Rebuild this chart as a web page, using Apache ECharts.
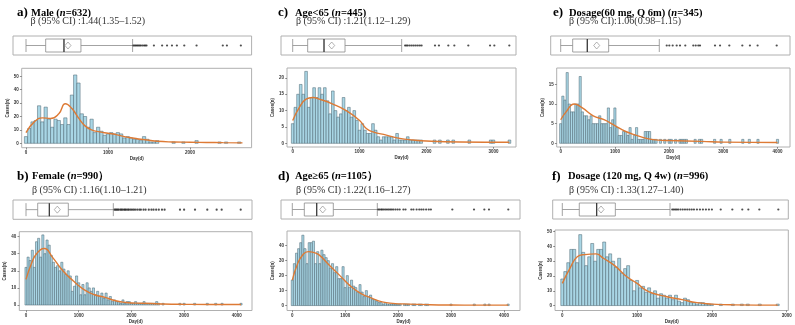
<!DOCTYPE html>
<html><head><meta charset="utf-8">
<script src="https://cdn.jsdelivr.net/npm/echarts@6/dist/echarts.min.js"></script>
<style>html,body{margin:0;padding:0;background:#fff}#c{width:795px;height:325px}</style>
</head><body><div id="c"></div>
<script>
// ---------------- DATA ----------------
const binWidth = 40; // days per histogram bin (bins centred on 0, 40, 80, ...)

// a) Male
const tagA = 'a)';
const titleA = 'Male (n=632)';
const subA = 'β (95% CI) :1.44(1.35–1.52)';
const countsA = [5,11,16,17,28,16,27,18,12,18, 17,14,19,14,36,51,45,22,20,12, 18,8,12,9,6,7,8,7,8,7, 4,5,4,3,3,2,5,3,1,1, 2,0,0,0,0,1,0,0,1,0, 0,0,2,0,0,0,0,0,0,1, 0,1,0,0,0,1];
const densA = [[0,8],[100,16],[200,19],[300,18.5],[400,22],[480,29.5],[560,26],[640,19],[720,13],[800,10],[900,8.5],[1000,7.5],[1100,6.5],[1200,5],[1300,4],[1400,3],[1500,2.3],[1600,1.5],[1800,1],[2000,0.8],[2200,0.6],[2400,0.5],[2640,0.3]];
const boxA = [0,240,463,670,1300];
const meanA = 512;
const outA = [1310,1325,1340,1355,1370,1385,1400,1420,1440,1455,1470,1560,1660,1720,1780,1840,1930,2080,2400,2450,2620];
const xTicksA = [0,1000,2000];
const yTicksA = [0,10,20,30,40,50];

// b) Female
const tagB = 'b)';
const titleB = 'Female (n=990）';
const subB = 'β (95% CI) :1.16(1.10–1.21)';
const countsB = [22,28,26,32,22,37,39,28,41,30, 38,35,29,25,22,23,20,25,21,18, 20,17,8,11,17,13,6,12,6,13, 10,8,10,6,8,5,7,4,7,3, 5,2,3,2,2,1,3,1,2,2, 1,1,2,1,1,1,2,1,1,1, 1,1,2,1,0,1,0,0,0,0, 0,0,0,1,0,1,0,0,0,0, 1,0,0,0,0,0,1,0,0,0, 1,0,0,1,0,0,0,0,0,0, 0,0,1];
const densB = [[0,15],[100,24],[200,30],[350,33],[500,28],[700,20],[900,14],[1100,9],[1300,6],[1500,4.5],[1700,2.5],[1900,1.5],[2200,1],[2600,0.6],[3000,0.4],[3500,0.3],[4080,0.3]];
const boxB = [0,222,443,803,1657];
const meanB = 594;
const outB = [1680,1700,1720,1740,1760,1790,1810,1830,1860,1880,1900,1930,1950,1980,2010,2040,2070,2110,2150,2180,2230,2270,2330,2380,2420,2470,2520,2580,2630,2922,3000,3207,3440,3618,3713,4074];
const xTicksB = [0,1000,2000,3000,4000];
const yTicksB = [0,10,20,30,40];

// c) Age<65
const tagC = 'c)';
const titleC = 'Age<65 (n=445)';
const subC = 'β (95% CI) :1.21(1.12–1.29)';
const countsC = [6,11,15,18,15,22,11,14,17,14, 17,15,17,13,9,16,10,8,9,14, 10,11,8,10,7,4,6,4,3,3, 6,4,2,1,2,2,2,2,1,3, 1,1,1,2,1,1,1,1,1,0, 0,0,0,1,0,1,0,0,1,0, 1,0,0,0,0,0,1,0,0,0, 0,0,0,0,1,1,0,0,0,0, 0,1];
const densC = [[0,7],[100,11],[200,13.5],[300,14],[400,13.5],[600,12],[800,10],[1000,7],[1100,4.5],[1200,3.5],[1400,2.5],[1600,1.5],[1800,1],[2000,0.7],[2500,0.4],[3240,0.3]];
const boxC = [0,224,468,782,1629];
const meanC = 583;
const outC = [1680,1700,1720,1750,1780,1810,1840,1870,1900,1927,2127,2186,2326,2416,2625,2950,3014,3238];
const xTicksC = [0,1000,2000,3000];
const yTicksC = [0,5,10,15,20];

// d) Age>=65
const tagD = 'd)';
const titleD = 'Age≥65 (n=1105）';
const subD = 'β (95% CI) :1.22(1.16–1.27)';
const countsD = [17,28,35,38,42,47,38,28,42,42, 43,28,36,28,37,34,32,30,25,28, 22,26,18,18,26,12,20,12,17,13, 12,9,14,9,6,10,6,7,4,4, 3,2,2,1,2,1,1,1,1,1, 1,1,0,1,1,1,0,1,1,0, 1,1,0,1,1,0,0,0,0,0, 0,0,0,0,0,1,0,0,0,0, 0,0,0,0,0,0,1,0,0,0, 0,1,0,1,0,0,0,0,0,0, 0,0,1];
const densD = [[0,17],[100,28],[200,34],[300,36],[400,35.5],[500,34],[700,27],[900,20],[1100,13],[1300,8],[1500,5],[1700,2.5],[1900,1.5],[2200,1],[2600,0.6],[3000,0.4],[3500,0.3],[4080,0.3]];
const boxD = [0,227,461,775,1607];
const meanD = 575;
const outD = [1625,1650,1680,1700,1730,1760,1790,1820,1850,1880,1910,1950,1990,2030,2100,2140,2250,2290,2350,2400,2440,2480,2530,2580,2620,3025,3435,3630,3718,4083];
const xTicksD = [0,1000,2000,3000,4000];
const yTicksD = [0,10,20,30,40];

// e) Dosage 60 mg
const tagE = 'e)';
const titleE = 'Dosage(60 mg, Q 6m) (n=345)';
const subE = 'β (95% CI):1.06(0.98–1.15)';
const countsE = [5,12,11,18,10,8,8,10,10,17, 8,7,7,6,7,5,5,5,7,5, 5,5,9,4,6,9,4,2,2,3, 3,2,4,1,2,4,1,1,1,3, 3,3,1,1,1,0,1,0,1,0, 1,1,0,1,0,1,1,1,1,0, 0,0,1,0,1,1,0,0,0,0, 0,1,0,0,1,0,0,0,1,0, 0,0,0,0,1,0,0,1,0,0, 0,1,0,0,0,0,0,0,0,0, 1];
const densE = [[0,6],[100,8],[250,10],[400,9],[600,7],[800,6],[1000,4.5],[1200,3],[1400,2],[1600,1.2],[1800,0.8],[2000,0.7],[2600,0.5],[3000,0.3],[4000,0.2]];
const boxE = [0,221,491,885,1819];
const meanE = 664;
const outE = [1956,2004,2066,2140,2201,2299,2446,2491,2539,2570,2847,2940,3111,3351,3491,3633,3985];
const xTicksE = [0,1000,2000,3000,4000];
const yTicksE = [0,5,10,15];

// f) Dosage 120 mg
const tagF = 'f)';
const titleF = 'Dosage (120 mg, Q 4w) (n=996)';
const subF = 'β (95% CI) :1.33(1.27–1.40)';
const countsF = [18,23,29,38,38,29,48,36,27,33, 42,30,38,38,43,33,35,30,26,32, 22,25,27,17,10,17,12,13,9,12, 8,10,5,8,7,5,7,4,7,3, 2,5,4,2,2,1,2,2,1,1, 1,0,0,1,0,0,0,1,0,0, 1,0,1,0,0,0,1,0,0,0, 0,0,1];
const densF = [[0,15],[100,25],[200,33],[300,34.5],[450,35],[550,32],[700,27],[850,20],[1000,15],[1100,11],[1200,8.5],[1400,6],[1600,4],[1800,2],[2000,1],[2300,0.5],[2880,0.3]];
const boxF = [0,227,459,709,1440];
const meanF = 518;
const outF = [1470,1490,1510,1530,1550,1580,1610,1640,1670,1700,1730,1760,1800,1840,1880,1920,1960,2000,2118,2273,2406,2487,2634,2888];
const xTicksF = [0,1000,2000,3000];
const yTicksF = [0,10,20,30,40,50];

// ---------------- LAYOUT (pixels) ----------------
const layoutA = {box:[13,36,251.6,55], hist:[21.7,68.3,251.6,147.7], x0:26, px:82, y0:143.3, pu:1.34, tagX:17, nameX:31, titleY:13, subX:30.5, subY:21.5};
const layoutB = {box:[13,200,252,219.3], hist:[19.3,231.7,252,312.3], x0:26, px:52.7, y0:306.7, pu:1.75, tagX:17, nameX:32, titleY:176.5, subX:32, subY:190.5};
const layoutC = {box:[281,36,516,55], hist:[287,68,516,147], x0:292.7, px:66.9, y0:143.3, pu:3.27, tagX:278, nameX:295, titleY:13, subX:296, subY:21.5};
const layoutD = {box:[281,200,520,219], hist:[287,231,520,311.7], x0:292.3, px:52.9, y0:306.7, pu:1.52, tagX:278, nameX:295, titleY:176.5, subX:296, subY:190.5};
const layoutE = {box:[550.7,36,790,55], hist:[556.7,68,790,147], x0:560.7, px:54.2, y0:143.3, pu:3.93, tagX:553, nameX:569, titleY:13, subX:569, subY:21.5};
const layoutF = {box:[552.7,200,788.3,219], hist:[555,230,788.3,311.7], x0:562.3, px:74.8, y0:306.7, pu:1.5, tagX:552, nameX:568, titleY:176.5, subX:569, subY:190.5};

const panels = [
  {tag:tagA, title:titleA, sub:subA, counts:countsA, dens:densA, box:boxA, mean:meanA, out:outA, xt:xTicksA, yt:yTicksA, L:layoutA},
  {tag:tagB, title:titleB, sub:subB, counts:countsB, dens:densB, box:boxB, mean:meanB, out:outB, xt:xTicksB, yt:yTicksB, L:layoutB},
  {tag:tagC, title:titleC, sub:subC, counts:countsC, dens:densC, box:boxC, mean:meanC, out:outC, xt:xTicksC, yt:yTicksC, L:layoutC},
  {tag:tagD, title:titleD, sub:subD, counts:countsD, dens:densD, box:boxD, mean:meanD, out:outD, xt:xTicksD, yt:yTicksD, L:layoutD},
  {tag:tagE, title:titleE, sub:subE, counts:countsE, dens:densE, box:boxE, mean:meanE, out:outE, xt:xTicksE, yt:yTicksE, L:layoutE},
  {tag:tagF, title:titleF, sub:subF, counts:countsF, dens:densF, box:boxF, mean:meanF, out:outF, xt:xTicksF, yt:yTicksF, L:layoutF}
];

// ---------------- BUILD ----------------
const SERIF = '"Liberation Serif","Times New Roman",serif';
const SANS = '"Liberation Sans",Arial,sans-serif';
const grids = [], xAxes = [], yAxes = [], series = [], graphics = [];
const tickLabel = {fontSize:4.5, color:'#333', fontFamily:SANS, fontWeight:'bold'};
const plain = v => String(v);

panels.forEach(p => {
  const L = p.L;
  const toX = px => (px - L.x0) / L.px * 1000;
  const toY = py => (L.y0 - py) / L.pu;

  const gb = grids.length;
  grids.push({left:L.box[0], top:L.box[1], width:L.box[2]-L.box[0], height:L.box[3]-L.box[1], show:true, borderColor:'#b0b0b0', borderWidth:1});
  xAxes.push({gridIndex:gb, type:'value', min:toX(L.box[0]), max:toX(L.box[2]), show:false, splitLine:{show:false}});
  yAxes.push({gridIndex:gb, type:'category', data:['d'], show:false});
  series.push({type:'boxplot', xAxisIndex:gb, yAxisIndex:gb, data:[p.box], boxWidth:[13,13], silent:true,
    itemStyle:{color:'#fff', borderColor:'#8c8c8c', borderWidth:0.8}});
  series.push({type:'scatter', xAxisIndex:gb, yAxisIndex:gb, data:[[p.box[2],0]], symbol:'rect', symbolSize:[1.3,13], silent:true,
    itemStyle:{color:'#222'}});
  series.push({type:'scatter', xAxisIndex:gb, yAxisIndex:gb, data:[[p.mean,0]], symbol:'diamond', symbolSize:[6,7], silent:true,
    itemStyle:{color:'#fff', borderColor:'#888', borderWidth:0.8}});
  series.push({type:'scatter', xAxisIndex:gb, yAxisIndex:gb, data:p.out.map(v=>[v,0]), symbol:'circle', symbolSize:2.2, silent:true,
    itemStyle:{color:'#222'}});

  const gh = grids.length;
  grids.push({left:L.hist[0], top:L.hist[1], width:L.hist[2]-L.hist[0], height:L.hist[3]-L.hist[1], show:true, borderColor:'#b0b0b0', borderWidth:1});
  xAxes.push({gridIndex:gh, type:'value', min:toX(L.hist[0]), max:toX(L.hist[2]),
    axisLine:{show:false, onZero:false}, splitLine:{show:false},
    axisTick:{show:true, length:1.8, customValues:p.xt, lineStyle:{color:'#444', width:0.6}},
    axisLabel:Object.assign({customValues:p.xt, margin:2.5, formatter:plain}, tickLabel),
    name:'Day(d)', nameLocation:'middle', nameGap:8.5, nameTextStyle:tickLabel});
  yAxes.push({gridIndex:gh, type:'value', min:toY(L.hist[3]), max:toY(L.hist[1]),
    axisLine:{show:false, onZero:false}, splitLine:{show:false},
    axisTick:{show:true, length:1.8, customValues:p.yt, lineStyle:{color:'#444', width:0.6}},
    axisLabel:Object.assign({customValues:p.yt, margin:3, formatter:plain}, tickLabel),
    name:'Cases(n)', nameLocation:'middle', nameGap:10, nameRotate:90, nameTextStyle:tickLabel});
  series.push({type:'custom', xAxisIndex:gh, yAxisIndex:gh, silent:true,
    data:p.counts.map((c,k)=>[k*binWidth, c]).filter(d=>d[1]>0),
    renderItem:(params, api) => {
      const c = api.value(0), h = api.value(1);
      const a = api.coord([c - binWidth/2, 0]);
      const b = api.coord([c + binWidth/2, h]);
      return {type:'rect', shape:{x:a[0], y:b[1], width:b[0]-a[0], height:a[1]-b[1]},
        style:{fill:'#a9d6e5', stroke:'#46606c', lineWidth:0.5}};
    }});
  series.push({type:'line', xAxisIndex:gh, yAxisIndex:gh, data:p.dens, smooth:0.5, showSymbol:false, silent:true,
    lineStyle:{color:'#dd7a35', width:1.4}});

  const parts = p.title.split('n=');
  graphics.push({type:'text', x:L.tagX, y:L.titleY, style:{text:p.tag, font:'bold 13px '+SERIF, fill:'#000', verticalAlign:'middle'}});
  graphics.push({type:'text', x:L.nameX, y:L.titleY, style:{
    text:'{b|'+parts[0]+'}{i|n}{b|='+parts[1]+'}', verticalAlign:'middle',
    rich:{b:{fontFamily:SERIF, fontSize:10.5, fontWeight:'bold', fill:'#000'},
          i:{fontFamily:SERIF, fontSize:10.5, fontWeight:'bold', fontStyle:'italic', fill:'#000'}}}});
  graphics.push({type:'text', x:L.subX, y:L.subY, style:{text:p.sub, font:'10px '+SERIF, fill:'#333', verticalAlign:'middle'}});
});

const chart = echarts.init(document.getElementById('c'), null, {renderer:'canvas'});
chart.setOption({animation:false, backgroundColor:'#fff', grid:grids, xAxis:xAxes, yAxis:yAxes, series:series, graphic:graphics});
</script>
</body></html>
